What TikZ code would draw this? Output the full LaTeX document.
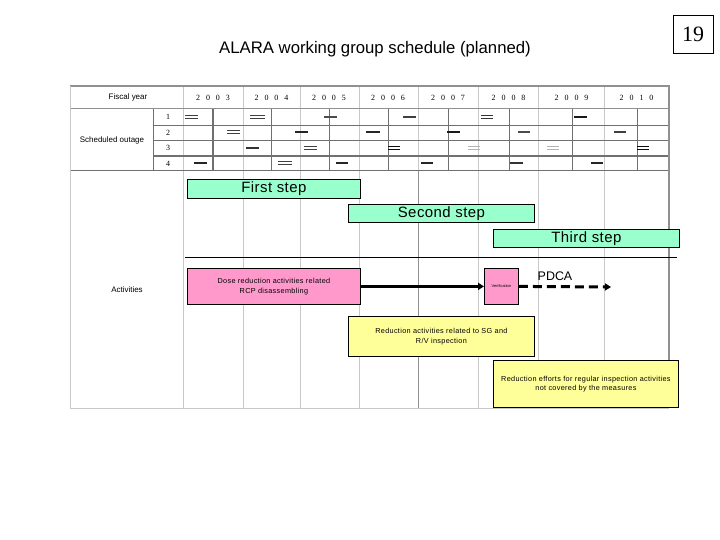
\documentclass[tikz,border=0pt]{standalone}
\usepackage{fontspec}
\setmainfont{Liberation Sans}
\newfontfamily\seriffont{Liberation Serif}
\newfontfamily\widesans[LetterSpace=4.5]{Liberation Sans}
\newfontfamily\stepsans[LetterSpace=3]{Liberation Sans}
\usetikzlibrary{arrows.meta}
\definecolor{stepc}{HTML}{99FFCC}
\definecolor{pinkc}{HTML}{FF99CC}
\definecolor{yellc}{HTML}{FFFF99}
\definecolor{gridd}{HTML}{707070}
\definecolor{gridl}{HTML}{C8C8C8}
\definecolor{gridm}{HTML}{909090}
\tikzset{
  stepbox/.style={draw=black, line width=0.8bp, fill=stepc, inner sep=0pt, anchor=north west, font=\stepsans\fontsize{15}{15}\selectfont},
  pinkbox/.style={draw=black, line width=0.8bp, fill=pinkc, inner sep=0pt, anchor=north west, align=center},
  yellbox/.style={draw=black, line width=0.8bp, fill=yellc, inner sep=0pt, anchor=north west, align=center, font=\widesans\fontsize{7.3}{9.5}\selectfont},
  lbl/.style={inner sep=0pt, font=\fontsize{8}{9}\selectfont},
  yearlbl/.style={inner sep=0pt, font=\seriffont\fontsize{8}{9}\selectfont},
  numlbl/.style={inner sep=0pt, font=\seriffont\fontsize{8}{9}\selectfont},
  barmark/.style={line width=2.2bp, draw=#1},
  dblmark/.style={line width=0.8bp, draw=#1},
}
\newcommand{\omS}[4]{\draw[barmark=#4] (#1,#3) -- (#2,#3);}
\newcommand{\omD}[4]{\draw[dblmark=#4] (#1,#3-1.3) -- (#2,#3-1.3); \draw[dblmark=#4] (#1,#3+1.3) -- (#2,#3+1.3);}
\newcommand{\yrtxt}[4]{#1\hspace{6bp}#2\hspace{6bp}#3\hspace{6bp}#4}
\begin{document}
\begin{tikzpicture}[x=1bp,y=-1bp]
\useasboundingbox (0,0) rectangle (720,540);
\fill[white] (0,0) rectangle (720,540);
% title and page number
\node[inner sep=0pt, font=\fontsize{16.8}{17}\selectfont] (title) at (375,49) {ALARA working group schedule (planned)};
\node[draw=black, line width=0.7bp, minimum width=40bp, minimum height=38bp, inner sep=0pt, font=\seriffont\fontsize{22}{22}\selectfont] (page) at (693,34) {19};
% vertical grid lines (light)
\foreach \x in {183,243,300,359,478,538,604} {\draw[gridl, line width=0.8bp] (\x,86) -- (\x,408);}
\draw[gridl, line width=0.8bp] (418,86) -- (418,171);
\draw[gridm, line width=1bp] (418,171) -- (418,408);
% mid-year lines in outage rows
\foreach \x in {271,329,388,448,509,572,637} {\draw[gridd, line width=0.9bp] (\x,109) -- (\x,171);}
\draw[gridd, line width=1.6bp] (213,109) -- (213,171);
\draw[gridd, line width=1bp] (153,109) -- (153,171);
% horizontal lines
\draw[gridm, line width=1bp] (70,109) -- (669,109);
\draw[gridd, line width=0.9bp] (153,125) -- (669,125);
\draw[gridd, line width=0.9bp] (153,140) -- (669,140);
\draw[gridd, line width=1.5bp] (153,156) -- (669,156);
\draw[gridd, line width=1bp] (70,171) -- (669,171);
% outer border
\draw[gridm, line width=1.5bp] (70,86) -- (669,86) -- (669,408);
\draw[gridl, line width=1bp] (70,86) -- (70,408) -- (669,408);
% header texts
\node[lbl] (fy) at (128,97) {Fiscal year};
\node[yearlbl] (y2003) at (213,97.5) {\yrtxt2003};
\node[yearlbl] (y2004) at (271.5,97.5) {\yrtxt2004};
\node[yearlbl] (y2005) at (329,97.5) {\yrtxt2005};
\node[yearlbl] (y2006) at (388,97.5) {\yrtxt2006};
\node[yearlbl] (y2007) at (448,97.5) {\yrtxt2007};
\node[yearlbl] (y2008) at (508.5,97.5) {\yrtxt2008};
\node[yearlbl] (y2009) at (571.5,97.5) {\yrtxt2009};
\node[yearlbl] (y2010) at (636.5,97.5) {\yrtxt2010};
\node[lbl] (so) at (112,140) {Scheduled outage};
\node[numlbl] (n1) at (168,117) {1};
\node[numlbl] (n2) at (168,132.5) {2};
\node[numlbl] (n3) at (168,148) {3};
\node[numlbl] (n4) at (168,163.5) {4};
\node[lbl] (act) at (127,290) {Activities};
% outage marks row 1
\omD{185}{198}{117}{black!75}
\omD{250}{265}{117}{black!75}
\omS{324}{337}{117}{black!70}
\omS{403}{416}{117}{black!75}
\omD{481}{493}{117}{black!80}
\omS{574}{587}{117}{black!90}
% row 2
\omD{227}{240}{132}{black!75}
\omS{295}{308}{132}{black!85}
\omS{366}{380}{132}{black!85}
\omS{447}{460}{132}{black!90}
\omS{518}{530}{132}{black!70}
\omS{614}{626}{132}{black!75}
% row 3
\omS{246}{259}{148}{black!80}
\omD{304}{317}{148}{black!75}
\omD{388}{400}{148}{black!95}
\omD{468}{480}{148}{black!30}
\omD{547}{559}{148}{black!30}
\omD{637}{649}{148}{black!95}
% row 4
\omS{194}{207}{163}{black!85}
\omD{278}{292}{163}{black!75}
\omS{336}{348}{163}{black!85}
\omS{421}{433}{163}{black!85}
\omS{510}{523}{163}{black!80}
\omS{591}{603}{163}{black!85}
% steps
\node[stepbox, minimum width=173bp, minimum height=19bp] (s1) at (187,179) {First step};
\node[stepbox, minimum width=186bp, minimum height=18bp] (s2) at (348,204) {Second step};
\node[stepbox, minimum width=186bp, minimum height=18bp] (s3) at (493,229) {Third step};
\coordinate (hl) at (185,258);
\coordinate (hr) at (677,258);
\draw[black, line width=1bp] (hl) -- (hr);
% activities
\node[pinkbox, minimum width=173bp, minimum height=36bp, font=\widesans\fontsize{7.3}{9.5}\selectfont] (dose) at (187,268) {Dose reduction activities related\\RCP disassembling};
\node[pinkbox, minimum width=34bp, minimum height=36bp, font=\fontsize{4}{5}\selectfont] (ver) at (484,268) {Verification};
\draw[black, line width=3bp, -{Triangle[length=6bp,width=7bp]}] (dose.east) -- (ver.west);
\coordinate (pend) at (611,287);
\draw[black, line width=3bp, dash pattern=on 9bp off 5bp, -{Triangle[length=6bp,width=7bp]}] (ver.east) -- (pend);
\node[inner sep=0pt, font=\fontsize{12.5}{12.5}\selectfont] (pdca) at (555,276) {PDCA};
\node[yellbox, minimum width=186bp, minimum height=40bp] (sg) at (348,316) {Reduction activities related to SG and\\R/V inspection};
\node[yellbox, minimum width=185bp, minimum height=47bp] (reg) at (493,360) {Reduction efforts for regular inspection activities\\not covered by the measures};
\end{tikzpicture}
\end{document}
